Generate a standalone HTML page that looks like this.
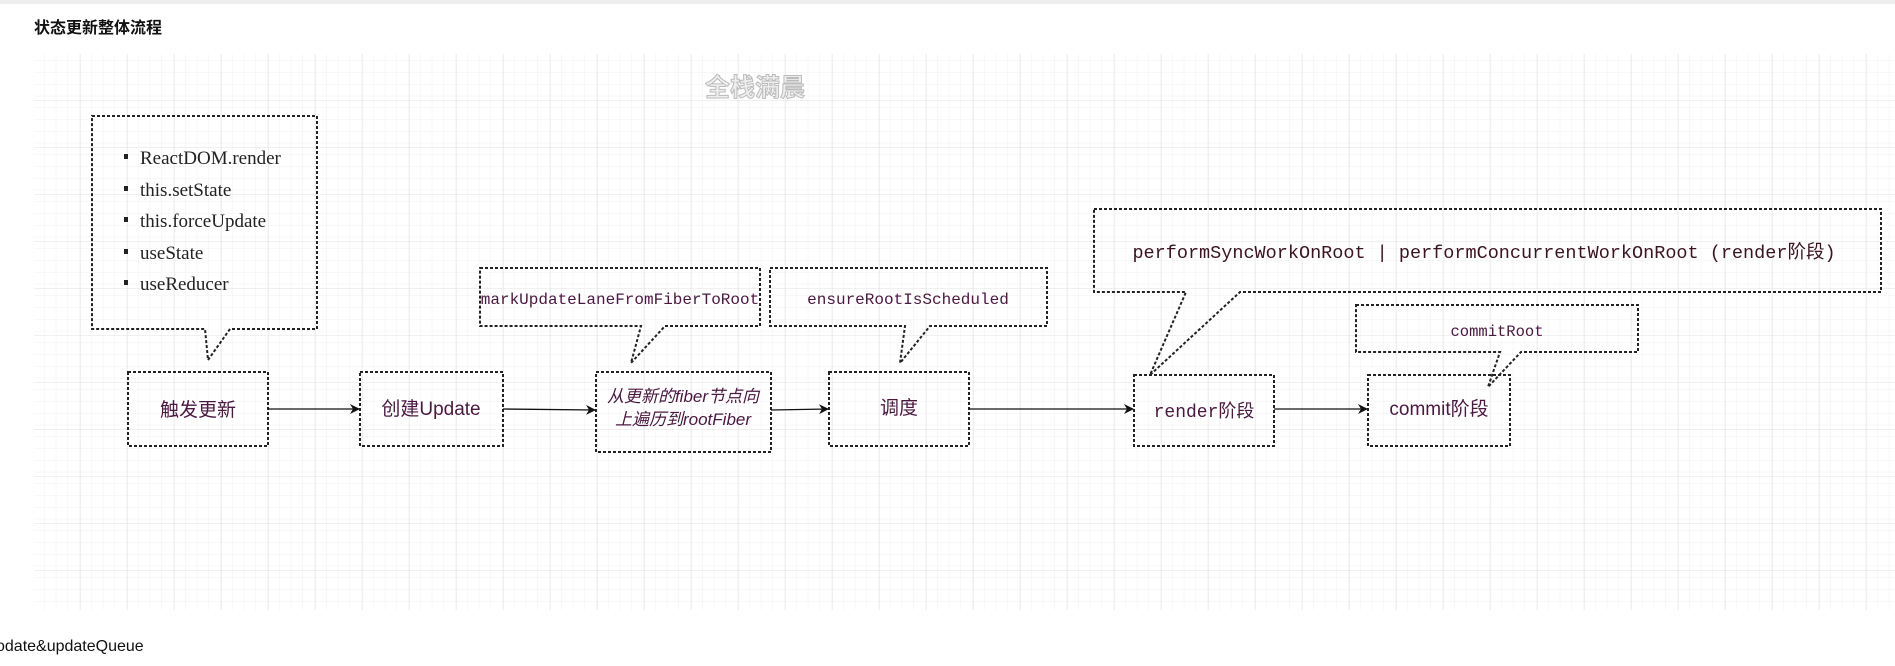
<!DOCTYPE html>
<html><head><meta charset="utf-8"><style>
html,body{margin:0;padding:0;background:#fff;width:1895px;height:666px;overflow:hidden}
svg{display:block}
</style></head><body>
<svg width="1895" height="666" xmlns="http://www.w3.org/2000/svg">
<defs>
<pattern id="minor" width="11.75" height="11.75" patternUnits="userSpaceOnUse" x="34" y="54">
<path d="M11.75 0V11.75H0" fill="none" stroke="#f0f0f0" stroke-width="1"/></pattern>
<pattern id="major" width="47" height="47" patternUnits="userSpaceOnUse" x="34" y="54">
<rect width="47" height="47" fill="url(#minor)"/>
<path d="M47 0V47H0" fill="none" stroke="#e2e2e2" stroke-width="1"/></pattern>
<marker id="ar" markerWidth="10" markerHeight="10" refX="9" refY="5" orient="auto" markerUnits="userSpaceOnUse">
<path d="M0,0 L10,5 L0,10 L3,5 Z" fill="#111"/></marker>
</defs>
<rect x="0" y="0" width="1895" height="4" fill="#eeeeee"/>
<text x="34" y="33" font-family="Liberation Sans, Noto Sans CJK SC, sans-serif" font-size="16" font-weight="bold" fill="#111">状态更新整体流程</text>
<rect x="34" y="54" width="1861" height="556" fill="url(#major)"/>
<text x="755" y="96" text-anchor="middle" font-family="Liberation Sans, Noto Sans CJK SC, sans-serif" font-size="25" font-weight="bold" fill="#eee" stroke="#bbb" stroke-width="1">全栈满晨</text>

<g fill="none" stroke="#222" stroke-width="2" stroke-dasharray="3 2">
<path d="M92 116 H317 V329 H230 L208 360 L205 329 H92 Z"/>
<path d="M480 268 H760 V326 H665 L631 363 L641 326 H480 Z"/>
<path d="M770 268 H1047 V326 H930 L900 363 L905 326 H770 Z"/>
<path d="M1094 209 H1881 V292 H1240 L1150 375 L1186 292 H1094 Z"/>
<path d="M1356 305 H1638 V352 H1521 L1488 387 L1500 352 H1356 Z"/>
<rect x="128" y="372" width="140" height="74"/>
<rect x="360" y="372" width="143" height="74"/>
<rect x="596" y="372" width="175" height="80"/>
<rect x="829" y="372" width="140" height="74"/>
<rect x="1134" y="375" width="140" height="71"/>
<rect x="1368" y="375" width="142" height="71"/>
</g>

<g stroke="#111" stroke-width="1.3" marker-end="url(#ar)">
<line x1="268" y1="409" x2="359" y2="409"/>
<line x1="503" y1="409" x2="595" y2="410"/>
<line x1="771" y1="410" x2="828" y2="409"/>
<line x1="969" y1="409" x2="1133" y2="409"/>
<line x1="1274" y1="409" x2="1367" y2="409"/>
</g>

<g font-family="Liberation Serif, serif" font-size="19" fill="#222">
<rect x="124" y="154" width="4" height="5" fill="#222"/><text x="140" y="164">ReactDOM.render</text>
<rect x="124" y="186" width="4" height="5" fill="#222"/><text x="140" y="196">this.setState</text>
<rect x="124" y="217" width="4" height="5" fill="#222"/><text x="140" y="227">this.forceUpdate</text>
<rect x="124" y="249" width="4" height="5" fill="#222"/><text x="140" y="259">useState</text>
<rect x="124" y="280" width="4" height="5" fill="#222"/><text x="140" y="290">useReducer</text>
</g>

<g font-family="Liberation Sans, Noto Sans CJK SC, sans-serif" font-size="19" fill="#4a1840" text-anchor="middle">
<text x="198" y="416">触发更新</text>
<text x="431" y="415">创建Update</text>
<text x="899" y="414">调度</text>
<text x="1439" y="415">commit阶段</text>
<text x="683" y="402" font-style="italic" font-size="17">从更新的fiber节点向</text>
<text x="683" y="425" font-style="italic" font-size="17">上遍历到rootFiber</text>
</g>
<g font-family="Liberation Mono, Noto Sans CJK SC, monospace" fill="#4a1840" text-anchor="middle">
<text x="620" y="304" font-size="16">markUpdateLaneFromFiberToRoot</text>
<text x="908" y="304" font-size="16">ensureRootIsScheduled</text>
<text x="1497" y="336" font-size="15.5">commitRoot</text>
<text x="1204" y="417" font-size="18">render阶段</text>
<text x="1484" y="258" font-size="18.5" fill="#3a1420">performSyncWorkOnRoot | performConcurrentWorkOnRoot (render阶段)</text>
</g>
<text x="-4" y="651" font-family="Liberation Sans, sans-serif" font-size="16" fill="#111">odate&amp;updateQueue</text>
</svg>
</body></html>
